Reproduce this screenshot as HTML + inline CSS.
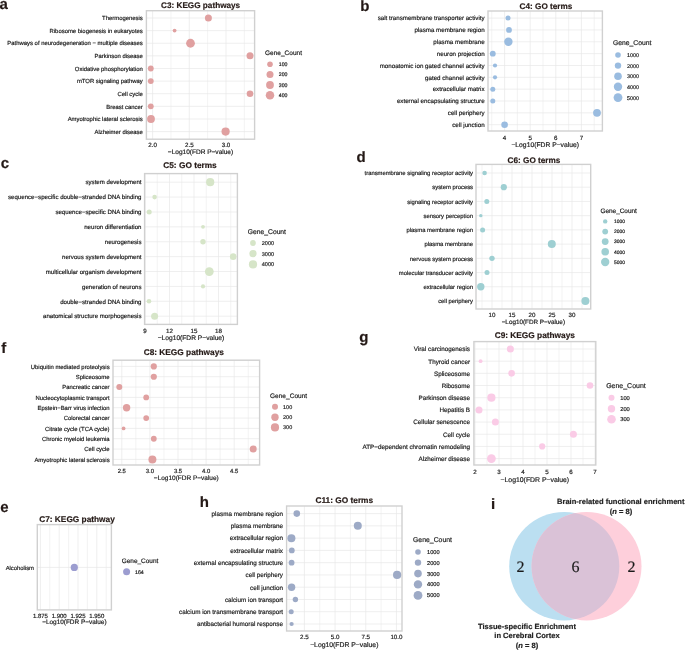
<!DOCTYPE html>
<html><head><meta charset="utf-8"><style>
html,body{margin:0;padding:0;background:#fff;overflow:hidden}
svg{display:block;will-change:transform}
text{font-family:"Liberation Sans",sans-serif;text-rendering:geometricPrecision;stroke:currentColor;stroke-width:0.18px;paint-order:stroke}
</style></head><body>
<svg width="685" height="650" viewBox="0 0 685 650">
<rect width="685" height="650" fill="#fff"/>
<text x="-0.50" y="8.70" font-size="15" text-anchor="start" font-weight="bold" fill="#231815" color="#231815" stroke-width="0">a</text>
<text x="200.60" y="7.90" font-size="8.2" text-anchor="middle" font-weight="bold" fill="#231815" color="#231815" stroke-width="0.08">C3: KEGG pathways</text>
<line x1="170.95" y1="10.70" x2="170.95" y2="139.20" stroke="#ececec" stroke-width="0.65"/>
<line x1="207.65" y1="10.70" x2="207.65" y2="139.20" stroke="#ececec" stroke-width="0.65"/>
<line x1="244.35" y1="10.70" x2="244.35" y2="139.20" stroke="#ececec" stroke-width="0.65"/>
<line x1="146.40" y1="18.00" x2="254.60" y2="18.00" stroke="#e8e8e8" stroke-width="0.7"/>
<line x1="146.40" y1="30.62" x2="254.60" y2="30.62" stroke="#e8e8e8" stroke-width="0.7"/>
<line x1="146.40" y1="43.24" x2="254.60" y2="43.24" stroke="#e8e8e8" stroke-width="0.7"/>
<line x1="146.40" y1="55.87" x2="254.60" y2="55.87" stroke="#e8e8e8" stroke-width="0.7"/>
<line x1="146.40" y1="68.49" x2="254.60" y2="68.49" stroke="#e8e8e8" stroke-width="0.7"/>
<line x1="146.40" y1="81.11" x2="254.60" y2="81.11" stroke="#e8e8e8" stroke-width="0.7"/>
<line x1="146.40" y1="93.73" x2="254.60" y2="93.73" stroke="#e8e8e8" stroke-width="0.7"/>
<line x1="146.40" y1="106.36" x2="254.60" y2="106.36" stroke="#e8e8e8" stroke-width="0.7"/>
<line x1="146.40" y1="118.98" x2="254.60" y2="118.98" stroke="#e8e8e8" stroke-width="0.7"/>
<line x1="146.40" y1="131.60" x2="254.60" y2="131.60" stroke="#e8e8e8" stroke-width="0.7"/>
<line x1="152.60" y1="10.70" x2="152.60" y2="139.20" stroke="#e8e8e8" stroke-width="0.7"/>
<line x1="189.30" y1="10.70" x2="189.30" y2="139.20" stroke="#e8e8e8" stroke-width="0.7"/>
<line x1="226.00" y1="10.70" x2="226.00" y2="139.20" stroke="#e8e8e8" stroke-width="0.7"/>
<rect x="146.40" y="10.70" width="108.20" height="128.50" fill="none" stroke="#d0d0d0" stroke-width="1.4"/>
<circle cx="208.40" cy="18.00" r="3.50" fill="#e0a0a0"/>
<circle cx="174.60" cy="30.62" r="1.90" fill="#e0a0a0"/>
<circle cx="190.50" cy="43.24" r="4.40" fill="#e0a0a0"/>
<circle cx="250.00" cy="55.87" r="3.50" fill="#e0a0a0"/>
<circle cx="150.80" cy="68.49" r="2.90" fill="#e0a0a0"/>
<circle cx="150.80" cy="81.11" r="2.90" fill="#e0a0a0"/>
<circle cx="250.00" cy="93.73" r="3.30" fill="#e0a0a0"/>
<circle cx="150.80" cy="106.36" r="2.90" fill="#e0a0a0"/>
<circle cx="151.00" cy="118.98" r="3.90" fill="#e0a0a0"/>
<circle cx="225.60" cy="131.60" r="4.10" fill="#e0a0a0"/>
<text x="142.80" y="20.19" font-size="5.92" text-anchor="end" fill="#1a1a1a" color="#1a1a1a">Thermogenesis</text>
<text x="142.80" y="32.81" font-size="5.92" text-anchor="end" fill="#1a1a1a" color="#1a1a1a">Ribosome biogenesis in eukaryotes</text>
<text x="142.80" y="45.43" font-size="5.92" text-anchor="end" fill="#1a1a1a" color="#1a1a1a">Pathways of neurodegeneration − multiple diseases</text>
<text x="142.80" y="58.06" font-size="5.92" text-anchor="end" fill="#1a1a1a" color="#1a1a1a">Parkinson disease</text>
<text x="142.80" y="70.68" font-size="5.92" text-anchor="end" fill="#1a1a1a" color="#1a1a1a">Oxidative phosphorylation</text>
<text x="142.80" y="83.30" font-size="5.92" text-anchor="end" fill="#1a1a1a" color="#1a1a1a">mTOR signaling pathway</text>
<text x="142.80" y="95.92" font-size="5.92" text-anchor="end" fill="#1a1a1a" color="#1a1a1a">Cell cycle</text>
<text x="142.80" y="108.55" font-size="5.92" text-anchor="end" fill="#1a1a1a" color="#1a1a1a">Breast cancer</text>
<text x="142.80" y="121.17" font-size="5.92" text-anchor="end" fill="#1a1a1a" color="#1a1a1a">Amyotrophic lateral sclerosis</text>
<text x="142.80" y="133.79" font-size="5.92" text-anchor="end" fill="#1a1a1a" color="#1a1a1a">Alzheimer disease</text>
<text x="152.60" y="146.83" font-size="6.2" text-anchor="middle" fill="#1a1a1a" color="#1a1a1a">2.0</text>
<text x="189.30" y="146.83" font-size="6.2" text-anchor="middle" fill="#1a1a1a" color="#1a1a1a">2.5</text>
<text x="226.00" y="146.83" font-size="6.2" text-anchor="middle" fill="#1a1a1a" color="#1a1a1a">3.0</text>
<text x="200.50" y="154.36" font-size="6.54" text-anchor="middle" fill="#1a1a1a" color="#1a1a1a">−Log10(FDR P−value)</text>
<text x="265.00" y="55.35" font-size="6.53" text-anchor="start" fill="#1a1a1a" color="#1a1a1a">Gene_Count</text>
<circle cx="270.00" cy="64.30" r="2.80" fill="#e0a0a0"/>
<text x="278.80" y="66.17" font-size="5.2" text-anchor="start" fill="#1a1a1a" color="#1a1a1a">100</text>
<circle cx="270.00" cy="74.60" r="3.50" fill="#e0a0a0"/>
<text x="278.80" y="76.47" font-size="5.2" text-anchor="start" fill="#1a1a1a" color="#1a1a1a">200</text>
<circle cx="270.00" cy="85.00" r="3.90" fill="#e0a0a0"/>
<text x="278.80" y="86.87" font-size="5.2" text-anchor="start" fill="#1a1a1a" color="#1a1a1a">300</text>
<circle cx="270.00" cy="95.20" r="4.25" fill="#e0a0a0"/>
<text x="278.80" y="97.07" font-size="5.2" text-anchor="start" fill="#1a1a1a" color="#1a1a1a">400</text>
<text x="360.30" y="10.50" font-size="15" text-anchor="start" font-weight="bold" fill="#231815" color="#231815" stroke-width="0">b</text>
<text x="546.00" y="8.90" font-size="8.2" text-anchor="middle" font-weight="bold" fill="#231815" color="#231815" stroke-width="0.08">C4: GO terms</text>
<line x1="491.80" y1="11.00" x2="491.80" y2="131.00" stroke="#ececec" stroke-width="0.65"/>
<line x1="517.40" y1="11.00" x2="517.40" y2="131.00" stroke="#ececec" stroke-width="0.65"/>
<line x1="543.00" y1="11.00" x2="543.00" y2="131.00" stroke="#ececec" stroke-width="0.65"/>
<line x1="568.60" y1="11.00" x2="568.60" y2="131.00" stroke="#ececec" stroke-width="0.65"/>
<line x1="594.20" y1="11.00" x2="594.20" y2="131.00" stroke="#ececec" stroke-width="0.65"/>
<line x1="488.00" y1="18.10" x2="602.40" y2="18.10" stroke="#e8e8e8" stroke-width="0.7"/>
<line x1="488.00" y1="29.94" x2="602.40" y2="29.94" stroke="#e8e8e8" stroke-width="0.7"/>
<line x1="488.00" y1="41.79" x2="602.40" y2="41.79" stroke="#e8e8e8" stroke-width="0.7"/>
<line x1="488.00" y1="53.63" x2="602.40" y2="53.63" stroke="#e8e8e8" stroke-width="0.7"/>
<line x1="488.00" y1="65.48" x2="602.40" y2="65.48" stroke="#e8e8e8" stroke-width="0.7"/>
<line x1="488.00" y1="77.32" x2="602.40" y2="77.32" stroke="#e8e8e8" stroke-width="0.7"/>
<line x1="488.00" y1="89.17" x2="602.40" y2="89.17" stroke="#e8e8e8" stroke-width="0.7"/>
<line x1="488.00" y1="101.01" x2="602.40" y2="101.01" stroke="#e8e8e8" stroke-width="0.7"/>
<line x1="488.00" y1="112.86" x2="602.40" y2="112.86" stroke="#e8e8e8" stroke-width="0.7"/>
<line x1="488.00" y1="124.70" x2="602.40" y2="124.70" stroke="#e8e8e8" stroke-width="0.7"/>
<line x1="504.60" y1="11.00" x2="504.60" y2="131.00" stroke="#e8e8e8" stroke-width="0.7"/>
<line x1="530.20" y1="11.00" x2="530.20" y2="131.00" stroke="#e8e8e8" stroke-width="0.7"/>
<line x1="555.80" y1="11.00" x2="555.80" y2="131.00" stroke="#e8e8e8" stroke-width="0.7"/>
<line x1="581.40" y1="11.00" x2="581.40" y2="131.00" stroke="#e8e8e8" stroke-width="0.7"/>
<rect x="488.00" y="11.00" width="114.40" height="120.00" fill="none" stroke="#d0d0d0" stroke-width="1.4"/>
<circle cx="508.00" cy="18.10" r="2.50" fill="#9abce0"/>
<circle cx="509.00" cy="29.94" r="2.90" fill="#9abce0"/>
<circle cx="508.40" cy="41.79" r="4.20" fill="#9abce0"/>
<circle cx="492.80" cy="53.63" r="2.90" fill="#9abce0"/>
<circle cx="495.00" cy="65.48" r="2.10" fill="#9abce0"/>
<circle cx="495.00" cy="77.32" r="2.10" fill="#9abce0"/>
<circle cx="492.80" cy="89.17" r="2.50" fill="#9abce0"/>
<circle cx="492.80" cy="101.01" r="2.50" fill="#9abce0"/>
<circle cx="597.00" cy="112.86" r="3.90" fill="#9abce0"/>
<circle cx="504.60" cy="124.70" r="3.30" fill="#9abce0"/>
<text x="484.60" y="20.39" font-size="6.2" text-anchor="end" fill="#1a1a1a" color="#1a1a1a">salt transmembrane transporter activity</text>
<text x="484.60" y="32.24" font-size="6.2" text-anchor="end" fill="#1a1a1a" color="#1a1a1a">plasma membrane region</text>
<text x="484.60" y="44.08" font-size="6.2" text-anchor="end" fill="#1a1a1a" color="#1a1a1a">plasma membrane</text>
<text x="484.60" y="55.93" font-size="6.2" text-anchor="end" fill="#1a1a1a" color="#1a1a1a">neuron projection</text>
<text x="484.60" y="67.77" font-size="6.2" text-anchor="end" fill="#1a1a1a" color="#1a1a1a">monoatomic ion gated channel activity</text>
<text x="484.60" y="79.62" font-size="6.2" text-anchor="end" fill="#1a1a1a" color="#1a1a1a">gated channel activity</text>
<text x="484.60" y="91.46" font-size="6.2" text-anchor="end" fill="#1a1a1a" color="#1a1a1a">extracellular matrix</text>
<text x="484.60" y="103.31" font-size="6.2" text-anchor="end" fill="#1a1a1a" color="#1a1a1a">external encapsulating structure</text>
<text x="484.60" y="115.15" font-size="6.2" text-anchor="end" fill="#1a1a1a" color="#1a1a1a">cell periphery</text>
<text x="484.60" y="126.99" font-size="6.2" text-anchor="end" fill="#1a1a1a" color="#1a1a1a">cell junction</text>
<text x="504.60" y="139.53" font-size="6.2" text-anchor="middle" fill="#1a1a1a" color="#1a1a1a">4</text>
<text x="530.20" y="139.53" font-size="6.2" text-anchor="middle" fill="#1a1a1a" color="#1a1a1a">5</text>
<text x="555.80" y="139.53" font-size="6.2" text-anchor="middle" fill="#1a1a1a" color="#1a1a1a">6</text>
<text x="581.40" y="139.53" font-size="6.2" text-anchor="middle" fill="#1a1a1a" color="#1a1a1a">7</text>
<text x="545.20" y="146.83" font-size="6.76" text-anchor="middle" fill="#1a1a1a" color="#1a1a1a">−Log10(FDR P−value)</text>
<text x="613.00" y="45.44" font-size="6.77" text-anchor="start" fill="#1a1a1a" color="#1a1a1a">Gene_Count</text>
<circle cx="618.00" cy="55.00" r="2.80" fill="#9abce0"/>
<text x="627.00" y="56.94" font-size="5.4" text-anchor="start" fill="#1a1a1a" color="#1a1a1a">1000</text>
<circle cx="618.00" cy="65.60" r="3.20" fill="#9abce0"/>
<text x="627.00" y="67.54" font-size="5.4" text-anchor="start" fill="#1a1a1a" color="#1a1a1a">2000</text>
<circle cx="618.00" cy="76.20" r="3.80" fill="#9abce0"/>
<text x="627.00" y="78.14" font-size="5.4" text-anchor="start" fill="#1a1a1a" color="#1a1a1a">3000</text>
<circle cx="618.00" cy="86.80" r="4.20" fill="#9abce0"/>
<text x="627.00" y="88.74" font-size="5.4" text-anchor="start" fill="#1a1a1a" color="#1a1a1a">4000</text>
<circle cx="618.00" cy="97.60" r="4.40" fill="#9abce0"/>
<text x="627.00" y="99.54" font-size="5.4" text-anchor="start" fill="#1a1a1a" color="#1a1a1a">5000</text>
<text x="0.80" y="168.20" font-size="15" text-anchor="start" font-weight="bold" fill="#231815" color="#231815" stroke-width="0">c</text>
<text x="190.00" y="168.00" font-size="8.3" text-anchor="middle" font-weight="bold" fill="#231815" color="#231815" stroke-width="0.08">C5: GO terms</text>
<line x1="157.25" y1="173.60" x2="157.25" y2="324.40" stroke="#ececec" stroke-width="0.65"/>
<line x1="181.76" y1="173.60" x2="181.76" y2="324.40" stroke="#ececec" stroke-width="0.65"/>
<line x1="206.28" y1="173.60" x2="206.28" y2="324.40" stroke="#ececec" stroke-width="0.65"/>
<line x1="230.78" y1="173.60" x2="230.78" y2="324.40" stroke="#ececec" stroke-width="0.65"/>
<line x1="144.60" y1="182.20" x2="237.40" y2="182.20" stroke="#e8e8e8" stroke-width="0.7"/>
<line x1="144.60" y1="197.09" x2="237.40" y2="197.09" stroke="#e8e8e8" stroke-width="0.7"/>
<line x1="144.60" y1="211.98" x2="237.40" y2="211.98" stroke="#e8e8e8" stroke-width="0.7"/>
<line x1="144.60" y1="226.87" x2="237.40" y2="226.87" stroke="#e8e8e8" stroke-width="0.7"/>
<line x1="144.60" y1="241.76" x2="237.40" y2="241.76" stroke="#e8e8e8" stroke-width="0.7"/>
<line x1="144.60" y1="256.64" x2="237.40" y2="256.64" stroke="#e8e8e8" stroke-width="0.7"/>
<line x1="144.60" y1="271.53" x2="237.40" y2="271.53" stroke="#e8e8e8" stroke-width="0.7"/>
<line x1="144.60" y1="286.42" x2="237.40" y2="286.42" stroke="#e8e8e8" stroke-width="0.7"/>
<line x1="144.60" y1="301.31" x2="237.40" y2="301.31" stroke="#e8e8e8" stroke-width="0.7"/>
<line x1="144.60" y1="316.20" x2="237.40" y2="316.20" stroke="#e8e8e8" stroke-width="0.7"/>
<line x1="145.00" y1="173.60" x2="145.00" y2="324.40" stroke="#e8e8e8" stroke-width="0.7"/>
<line x1="169.51" y1="173.60" x2="169.51" y2="324.40" stroke="#e8e8e8" stroke-width="0.7"/>
<line x1="194.02" y1="173.60" x2="194.02" y2="324.40" stroke="#e8e8e8" stroke-width="0.7"/>
<line x1="218.53" y1="173.60" x2="218.53" y2="324.40" stroke="#e8e8e8" stroke-width="0.7"/>
<rect x="144.60" y="173.60" width="92.80" height="150.80" fill="none" stroke="#d0d0d0" stroke-width="1.4"/>
<circle cx="210.20" cy="182.20" r="4.10" fill="#d6e5c8"/>
<circle cx="154.60" cy="197.09" r="2.30" fill="#d6e5c8"/>
<circle cx="149.20" cy="211.98" r="2.50" fill="#d6e5c8"/>
<circle cx="203.00" cy="226.87" r="1.90" fill="#d6e5c8"/>
<circle cx="203.00" cy="241.76" r="2.70" fill="#d6e5c8"/>
<circle cx="233.20" cy="256.64" r="3.30" fill="#d6e5c8"/>
<circle cx="209.30" cy="271.53" r="4.40" fill="#d6e5c8"/>
<circle cx="203.00" cy="286.42" r="2.10" fill="#d6e5c8"/>
<circle cx="149.00" cy="301.31" r="2.30" fill="#d6e5c8"/>
<circle cx="154.60" cy="316.20" r="3.50" fill="#d6e5c8"/>
<text x="141.50" y="184.46" font-size="6.12" text-anchor="end" fill="#1a1a1a" color="#1a1a1a">system development</text>
<text x="141.50" y="199.35" font-size="6.12" text-anchor="end" fill="#1a1a1a" color="#1a1a1a">sequence−specific double−stranded DNA binding</text>
<text x="141.50" y="214.24" font-size="6.12" text-anchor="end" fill="#1a1a1a" color="#1a1a1a">sequence−specific DNA binding</text>
<text x="141.50" y="229.13" font-size="6.12" text-anchor="end" fill="#1a1a1a" color="#1a1a1a">neuron differentiation</text>
<text x="141.50" y="244.02" font-size="6.12" text-anchor="end" fill="#1a1a1a" color="#1a1a1a">neurogenesis</text>
<text x="141.50" y="258.91" font-size="6.12" text-anchor="end" fill="#1a1a1a" color="#1a1a1a">nervous system development</text>
<text x="141.50" y="273.80" font-size="6.12" text-anchor="end" fill="#1a1a1a" color="#1a1a1a">multicellular organism development</text>
<text x="141.50" y="288.69" font-size="6.12" text-anchor="end" fill="#1a1a1a" color="#1a1a1a">generation of neurons</text>
<text x="141.50" y="303.58" font-size="6.12" text-anchor="end" fill="#1a1a1a" color="#1a1a1a">double−stranded DNA binding</text>
<text x="141.50" y="318.46" font-size="6.12" text-anchor="end" fill="#1a1a1a" color="#1a1a1a">anatomical structure morphogenesis</text>
<text x="145.00" y="332.63" font-size="6.2" text-anchor="middle" fill="#1a1a1a" color="#1a1a1a">9</text>
<text x="169.51" y="332.63" font-size="6.2" text-anchor="middle" fill="#1a1a1a" color="#1a1a1a">12</text>
<text x="194.02" y="332.63" font-size="6.2" text-anchor="middle" fill="#1a1a1a" color="#1a1a1a">15</text>
<text x="218.53" y="332.63" font-size="6.2" text-anchor="middle" fill="#1a1a1a" color="#1a1a1a">18</text>
<text x="191.00" y="340.20" font-size="6.66" text-anchor="middle" fill="#1a1a1a" color="#1a1a1a">−Log10(FDR P−value)</text>
<text x="247.80" y="234.43" font-size="6.74" text-anchor="start" fill="#1a1a1a" color="#1a1a1a">Gene_Count</text>
<circle cx="253.00" cy="243.00" r="2.90" fill="#d6e5c8"/>
<text x="261.80" y="244.97" font-size="5.47" text-anchor="start" fill="#1a1a1a" color="#1a1a1a">2000</text>
<circle cx="253.00" cy="253.60" r="3.60" fill="#d6e5c8"/>
<text x="261.80" y="255.57" font-size="5.47" text-anchor="start" fill="#1a1a1a" color="#1a1a1a">3000</text>
<circle cx="253.00" cy="264.40" r="4.10" fill="#d6e5c8"/>
<text x="261.80" y="266.37" font-size="5.47" text-anchor="start" fill="#1a1a1a" color="#1a1a1a">4000</text>
<text x="356.60" y="161.90" font-size="15" text-anchor="start" font-weight="bold" fill="#231815" color="#231815" stroke-width="0">d</text>
<text x="534.00" y="163.00" font-size="8.2" text-anchor="middle" font-weight="bold" fill="#231815" color="#231815" stroke-width="0.08">C6: GO terms</text>
<line x1="482.00" y1="164.40" x2="482.00" y2="309.00" stroke="#ececec" stroke-width="0.65"/>
<line x1="502.00" y1="164.40" x2="502.00" y2="309.00" stroke="#ececec" stroke-width="0.65"/>
<line x1="522.00" y1="164.40" x2="522.00" y2="309.00" stroke="#ececec" stroke-width="0.65"/>
<line x1="542.00" y1="164.40" x2="542.00" y2="309.00" stroke="#ececec" stroke-width="0.65"/>
<line x1="562.00" y1="164.40" x2="562.00" y2="309.00" stroke="#ececec" stroke-width="0.65"/>
<line x1="582.00" y1="164.40" x2="582.00" y2="309.00" stroke="#ececec" stroke-width="0.65"/>
<line x1="476.00" y1="173.00" x2="590.70" y2="173.00" stroke="#e8e8e8" stroke-width="0.7"/>
<line x1="476.00" y1="187.22" x2="590.70" y2="187.22" stroke="#e8e8e8" stroke-width="0.7"/>
<line x1="476.00" y1="201.44" x2="590.70" y2="201.44" stroke="#e8e8e8" stroke-width="0.7"/>
<line x1="476.00" y1="215.67" x2="590.70" y2="215.67" stroke="#e8e8e8" stroke-width="0.7"/>
<line x1="476.00" y1="229.89" x2="590.70" y2="229.89" stroke="#e8e8e8" stroke-width="0.7"/>
<line x1="476.00" y1="244.11" x2="590.70" y2="244.11" stroke="#e8e8e8" stroke-width="0.7"/>
<line x1="476.00" y1="258.33" x2="590.70" y2="258.33" stroke="#e8e8e8" stroke-width="0.7"/>
<line x1="476.00" y1="272.56" x2="590.70" y2="272.56" stroke="#e8e8e8" stroke-width="0.7"/>
<line x1="476.00" y1="286.78" x2="590.70" y2="286.78" stroke="#e8e8e8" stroke-width="0.7"/>
<line x1="476.00" y1="301.00" x2="590.70" y2="301.00" stroke="#e8e8e8" stroke-width="0.7"/>
<line x1="492.00" y1="164.40" x2="492.00" y2="309.00" stroke="#e8e8e8" stroke-width="0.7"/>
<line x1="512.00" y1="164.40" x2="512.00" y2="309.00" stroke="#e8e8e8" stroke-width="0.7"/>
<line x1="532.00" y1="164.40" x2="532.00" y2="309.00" stroke="#e8e8e8" stroke-width="0.7"/>
<line x1="552.00" y1="164.40" x2="552.00" y2="309.00" stroke="#e8e8e8" stroke-width="0.7"/>
<line x1="572.00" y1="164.40" x2="572.00" y2="309.00" stroke="#e8e8e8" stroke-width="0.7"/>
<rect x="476.00" y="164.40" width="114.70" height="144.60" fill="none" stroke="#d0d0d0" stroke-width="1.4"/>
<circle cx="484.60" cy="173.00" r="2.30" fill="#9ecfd2"/>
<circle cx="503.80" cy="187.22" r="3.10" fill="#9ecfd2"/>
<circle cx="486.80" cy="201.44" r="2.50" fill="#9ecfd2"/>
<circle cx="480.80" cy="215.67" r="1.70" fill="#9ecfd2"/>
<circle cx="482.60" cy="229.89" r="2.50" fill="#9ecfd2"/>
<circle cx="551.80" cy="244.11" r="4.00" fill="#9ecfd2"/>
<circle cx="492.00" cy="258.33" r="2.70" fill="#9ecfd2"/>
<circle cx="487.00" cy="272.56" r="2.50" fill="#9ecfd2"/>
<circle cx="480.80" cy="286.78" r="3.70" fill="#9ecfd2"/>
<circle cx="585.40" cy="301.00" r="4.00" fill="#9ecfd2"/>
<text x="473.00" y="175.17" font-size="5.87" text-anchor="end" fill="#1a1a1a" color="#1a1a1a">transmembrane signaling receptor activity</text>
<text x="473.00" y="189.39" font-size="5.87" text-anchor="end" fill="#1a1a1a" color="#1a1a1a">system process</text>
<text x="473.00" y="203.62" font-size="5.87" text-anchor="end" fill="#1a1a1a" color="#1a1a1a">signaling receptor activity</text>
<text x="473.00" y="217.84" font-size="5.87" text-anchor="end" fill="#1a1a1a" color="#1a1a1a">sensory perception</text>
<text x="473.00" y="232.06" font-size="5.87" text-anchor="end" fill="#1a1a1a" color="#1a1a1a">plasma membrane region</text>
<text x="473.00" y="246.28" font-size="5.87" text-anchor="end" fill="#1a1a1a" color="#1a1a1a">plasma membrane</text>
<text x="473.00" y="260.51" font-size="5.87" text-anchor="end" fill="#1a1a1a" color="#1a1a1a">nervous system process</text>
<text x="473.00" y="274.73" font-size="5.87" text-anchor="end" fill="#1a1a1a" color="#1a1a1a">molecular transducer activity</text>
<text x="473.00" y="288.95" font-size="5.87" text-anchor="end" fill="#1a1a1a" color="#1a1a1a">extracellular region</text>
<text x="473.00" y="303.17" font-size="5.87" text-anchor="end" fill="#1a1a1a" color="#1a1a1a">cell periphery</text>
<text x="492.00" y="317.23" font-size="6.2" text-anchor="middle" fill="#1a1a1a" color="#1a1a1a">10</text>
<text x="512.00" y="317.23" font-size="6.2" text-anchor="middle" fill="#1a1a1a" color="#1a1a1a">15</text>
<text x="532.00" y="317.23" font-size="6.2" text-anchor="middle" fill="#1a1a1a" color="#1a1a1a">20</text>
<text x="552.00" y="317.23" font-size="6.2" text-anchor="middle" fill="#1a1a1a" color="#1a1a1a">25</text>
<text x="572.00" y="317.23" font-size="6.2" text-anchor="middle" fill="#1a1a1a" color="#1a1a1a">30</text>
<text x="533.35" y="324.09" font-size="6.34" text-anchor="middle" fill="#1a1a1a" color="#1a1a1a">−Log10(FDR P−value)</text>
<text x="600.40" y="212.72" font-size="6.45" text-anchor="start" fill="#1a1a1a" color="#1a1a1a">Gene_Count</text>
<circle cx="605.20" cy="221.40" r="2.20" fill="#9ecfd2"/>
<text x="614.00" y="223.18" font-size="4.95" text-anchor="start" fill="#1a1a1a" color="#1a1a1a">1000</text>
<circle cx="605.20" cy="231.60" r="2.90" fill="#9ecfd2"/>
<text x="614.00" y="233.38" font-size="4.95" text-anchor="start" fill="#1a1a1a" color="#1a1a1a">2000</text>
<circle cx="605.20" cy="241.60" r="3.40" fill="#9ecfd2"/>
<text x="614.00" y="243.38" font-size="4.95" text-anchor="start" fill="#1a1a1a" color="#1a1a1a">3000</text>
<circle cx="605.20" cy="251.80" r="3.80" fill="#9ecfd2"/>
<text x="614.00" y="253.58" font-size="4.95" text-anchor="start" fill="#1a1a1a" color="#1a1a1a">4000</text>
<circle cx="605.20" cy="262.00" r="4.20" fill="#9ecfd2"/>
<text x="614.00" y="263.78" font-size="4.95" text-anchor="start" fill="#1a1a1a" color="#1a1a1a">5000</text>
<text x="1.30" y="352.60" font-size="15" text-anchor="start" font-weight="bold" fill="#231815" color="#231815" stroke-width="0">f</text>
<text x="183.80" y="355.30" font-size="8.3" text-anchor="middle" font-weight="bold" fill="#231815" color="#231815" stroke-width="0.08">C8: KEGG pathways</text>
<line x1="135.85" y1="360.20" x2="135.85" y2="465.00" stroke="#ececec" stroke-width="0.65"/>
<line x1="163.95" y1="360.20" x2="163.95" y2="465.00" stroke="#ececec" stroke-width="0.65"/>
<line x1="192.05" y1="360.20" x2="192.05" y2="465.00" stroke="#ececec" stroke-width="0.65"/>
<line x1="220.15" y1="360.20" x2="220.15" y2="465.00" stroke="#ececec" stroke-width="0.65"/>
<line x1="248.25" y1="360.20" x2="248.25" y2="465.00" stroke="#ececec" stroke-width="0.65"/>
<line x1="113.00" y1="366.40" x2="259.60" y2="366.40" stroke="#e8e8e8" stroke-width="0.7"/>
<line x1="113.00" y1="376.73" x2="259.60" y2="376.73" stroke="#e8e8e8" stroke-width="0.7"/>
<line x1="113.00" y1="387.07" x2="259.60" y2="387.07" stroke="#e8e8e8" stroke-width="0.7"/>
<line x1="113.00" y1="397.40" x2="259.60" y2="397.40" stroke="#e8e8e8" stroke-width="0.7"/>
<line x1="113.00" y1="407.73" x2="259.60" y2="407.73" stroke="#e8e8e8" stroke-width="0.7"/>
<line x1="113.00" y1="418.07" x2="259.60" y2="418.07" stroke="#e8e8e8" stroke-width="0.7"/>
<line x1="113.00" y1="428.40" x2="259.60" y2="428.40" stroke="#e8e8e8" stroke-width="0.7"/>
<line x1="113.00" y1="438.73" x2="259.60" y2="438.73" stroke="#e8e8e8" stroke-width="0.7"/>
<line x1="113.00" y1="449.07" x2="259.60" y2="449.07" stroke="#e8e8e8" stroke-width="0.7"/>
<line x1="113.00" y1="459.40" x2="259.60" y2="459.40" stroke="#e8e8e8" stroke-width="0.7"/>
<line x1="121.80" y1="360.20" x2="121.80" y2="465.00" stroke="#e8e8e8" stroke-width="0.7"/>
<line x1="149.90" y1="360.20" x2="149.90" y2="465.00" stroke="#e8e8e8" stroke-width="0.7"/>
<line x1="178.00" y1="360.20" x2="178.00" y2="465.00" stroke="#e8e8e8" stroke-width="0.7"/>
<line x1="206.10" y1="360.20" x2="206.10" y2="465.00" stroke="#e8e8e8" stroke-width="0.7"/>
<line x1="234.20" y1="360.20" x2="234.20" y2="465.00" stroke="#e8e8e8" stroke-width="0.7"/>
<rect x="113.00" y="360.20" width="146.60" height="104.80" fill="none" stroke="#d0d0d0" stroke-width="1.4"/>
<circle cx="153.80" cy="366.40" r="3.10" fill="#e0a0a0"/>
<circle cx="153.80" cy="376.73" r="3.10" fill="#e0a0a0"/>
<circle cx="119.30" cy="387.07" r="3.00" fill="#e0a0a0"/>
<circle cx="146.20" cy="397.40" r="2.90" fill="#e0a0a0"/>
<circle cx="126.60" cy="407.73" r="3.70" fill="#e0a0a0"/>
<circle cx="146.20" cy="418.07" r="2.90" fill="#e0a0a0"/>
<circle cx="123.60" cy="428.40" r="1.90" fill="#e0a0a0"/>
<circle cx="153.80" cy="438.73" r="2.90" fill="#e0a0a0"/>
<circle cx="253.20" cy="449.07" r="3.50" fill="#e0a0a0"/>
<circle cx="152.40" cy="459.40" r="4.00" fill="#e0a0a0"/>
<text x="109.60" y="368.59" font-size="5.92" text-anchor="end" fill="#1a1a1a" color="#1a1a1a">Ubiquitin mediated proteolysis</text>
<text x="109.60" y="378.92" font-size="5.92" text-anchor="end" fill="#1a1a1a" color="#1a1a1a">Spliceosome</text>
<text x="109.60" y="389.26" font-size="5.92" text-anchor="end" fill="#1a1a1a" color="#1a1a1a">Pancreatic cancer</text>
<text x="109.60" y="399.59" font-size="5.92" text-anchor="end" fill="#1a1a1a" color="#1a1a1a">Nucleocytoplasmic transport</text>
<text x="109.60" y="409.92" font-size="5.92" text-anchor="end" fill="#1a1a1a" color="#1a1a1a">Epstein−Barr virus infection</text>
<text x="109.60" y="420.26" font-size="5.92" text-anchor="end" fill="#1a1a1a" color="#1a1a1a">Colorectal cancer</text>
<text x="109.60" y="430.59" font-size="5.92" text-anchor="end" fill="#1a1a1a" color="#1a1a1a">Citrate cycle (TCA cycle)</text>
<text x="109.60" y="440.92" font-size="5.92" text-anchor="end" fill="#1a1a1a" color="#1a1a1a">Chronic myeloid leukemia</text>
<text x="109.60" y="451.26" font-size="5.92" text-anchor="end" fill="#1a1a1a" color="#1a1a1a">Cell cycle</text>
<text x="109.60" y="461.59" font-size="5.92" text-anchor="end" fill="#1a1a1a" color="#1a1a1a">Amyotrophic lateral sclerosis</text>
<text x="121.80" y="472.72" font-size="5.9" text-anchor="middle" fill="#1a1a1a" color="#1a1a1a">2.5</text>
<text x="149.90" y="472.72" font-size="5.9" text-anchor="middle" fill="#1a1a1a" color="#1a1a1a">3.0</text>
<text x="178.00" y="472.72" font-size="5.9" text-anchor="middle" fill="#1a1a1a" color="#1a1a1a">3.5</text>
<text x="206.10" y="472.72" font-size="5.9" text-anchor="middle" fill="#1a1a1a" color="#1a1a1a">4.0</text>
<text x="234.20" y="472.72" font-size="5.9" text-anchor="middle" fill="#1a1a1a" color="#1a1a1a">4.5</text>
<text x="186.30" y="480.14" font-size="6.49" text-anchor="middle" fill="#1a1a1a" color="#1a1a1a">−Log10(FDR P−value)</text>
<text x="270.00" y="398.16" font-size="6.56" text-anchor="start" fill="#1a1a1a" color="#1a1a1a">Gene_Count</text>
<circle cx="275.00" cy="406.80" r="3.00" fill="#e0a0a0"/>
<text x="283.10" y="408.76" font-size="5.45" text-anchor="start" fill="#1a1a1a" color="#1a1a1a">100</text>
<circle cx="275.00" cy="417.20" r="3.70" fill="#e0a0a0"/>
<text x="283.10" y="419.16" font-size="5.45" text-anchor="start" fill="#1a1a1a" color="#1a1a1a">200</text>
<circle cx="275.00" cy="427.40" r="4.10" fill="#e0a0a0"/>
<text x="283.10" y="429.36" font-size="5.45" text-anchor="start" fill="#1a1a1a" color="#1a1a1a">300</text>
<text x="359.30" y="342.00" font-size="15" text-anchor="start" font-weight="bold" fill="#231815" color="#231815" stroke-width="0">g</text>
<text x="534.80" y="338.40" font-size="8.3" text-anchor="middle" font-weight="bold" fill="#231815" color="#231815" stroke-width="0.08">C9: KEGG pathways</text>
<line x1="487.00" y1="341.60" x2="487.00" y2="465.00" stroke="#ececec" stroke-width="0.65"/>
<line x1="511.00" y1="341.60" x2="511.00" y2="465.00" stroke="#ececec" stroke-width="0.65"/>
<line x1="535.00" y1="341.60" x2="535.00" y2="465.00" stroke="#ececec" stroke-width="0.65"/>
<line x1="559.00" y1="341.60" x2="559.00" y2="465.00" stroke="#ececec" stroke-width="0.65"/>
<line x1="583.00" y1="341.60" x2="583.00" y2="465.00" stroke="#ececec" stroke-width="0.65"/>
<line x1="473.90" y1="349.00" x2="595.80" y2="349.00" stroke="#e8e8e8" stroke-width="0.7"/>
<line x1="473.90" y1="361.18" x2="595.80" y2="361.18" stroke="#e8e8e8" stroke-width="0.7"/>
<line x1="473.90" y1="373.36" x2="595.80" y2="373.36" stroke="#e8e8e8" stroke-width="0.7"/>
<line x1="473.90" y1="385.53" x2="595.80" y2="385.53" stroke="#e8e8e8" stroke-width="0.7"/>
<line x1="473.90" y1="397.71" x2="595.80" y2="397.71" stroke="#e8e8e8" stroke-width="0.7"/>
<line x1="473.90" y1="409.89" x2="595.80" y2="409.89" stroke="#e8e8e8" stroke-width="0.7"/>
<line x1="473.90" y1="422.07" x2="595.80" y2="422.07" stroke="#e8e8e8" stroke-width="0.7"/>
<line x1="473.90" y1="434.24" x2="595.80" y2="434.24" stroke="#e8e8e8" stroke-width="0.7"/>
<line x1="473.90" y1="446.42" x2="595.80" y2="446.42" stroke="#e8e8e8" stroke-width="0.7"/>
<line x1="473.90" y1="458.60" x2="595.80" y2="458.60" stroke="#e8e8e8" stroke-width="0.7"/>
<line x1="475.00" y1="341.60" x2="475.00" y2="465.00" stroke="#e8e8e8" stroke-width="0.7"/>
<line x1="499.00" y1="341.60" x2="499.00" y2="465.00" stroke="#e8e8e8" stroke-width="0.7"/>
<line x1="523.00" y1="341.60" x2="523.00" y2="465.00" stroke="#e8e8e8" stroke-width="0.7"/>
<line x1="547.00" y1="341.60" x2="547.00" y2="465.00" stroke="#e8e8e8" stroke-width="0.7"/>
<line x1="571.00" y1="341.60" x2="571.00" y2="465.00" stroke="#e8e8e8" stroke-width="0.7"/>
<line x1="595.00" y1="341.60" x2="595.00" y2="465.00" stroke="#e8e8e8" stroke-width="0.7"/>
<rect x="473.90" y="341.60" width="121.90" height="123.40" fill="none" stroke="#d0d0d0" stroke-width="1.4"/>
<circle cx="510.40" cy="349.00" r="3.50" fill="#facbe6"/>
<circle cx="480.60" cy="361.18" r="1.90" fill="#facbe6"/>
<circle cx="511.60" cy="373.36" r="3.30" fill="#facbe6"/>
<circle cx="590.00" cy="385.53" r="3.30" fill="#facbe6"/>
<circle cx="491.40" cy="397.71" r="4.10" fill="#facbe6"/>
<circle cx="479.00" cy="409.89" r="3.50" fill="#facbe6"/>
<circle cx="495.40" cy="422.07" r="3.50" fill="#facbe6"/>
<circle cx="573.40" cy="434.24" r="3.50" fill="#facbe6"/>
<circle cx="542.20" cy="446.42" r="3.10" fill="#facbe6"/>
<circle cx="491.40" cy="458.60" r="4.40" fill="#facbe6"/>
<text x="470.00" y="351.33" font-size="6.3" text-anchor="end" fill="#1a1a1a" color="#1a1a1a">Viral carcinogenesis</text>
<text x="470.00" y="363.51" font-size="6.3" text-anchor="end" fill="#1a1a1a" color="#1a1a1a">Thyroid cancer</text>
<text x="470.00" y="375.69" font-size="6.3" text-anchor="end" fill="#1a1a1a" color="#1a1a1a">Spliceosome</text>
<text x="470.00" y="387.86" font-size="6.3" text-anchor="end" fill="#1a1a1a" color="#1a1a1a">Ribosome</text>
<text x="470.00" y="400.04" font-size="6.3" text-anchor="end" fill="#1a1a1a" color="#1a1a1a">Parkinson disease</text>
<text x="470.00" y="412.22" font-size="6.3" text-anchor="end" fill="#1a1a1a" color="#1a1a1a">Hepatitis B</text>
<text x="470.00" y="424.40" font-size="6.3" text-anchor="end" fill="#1a1a1a" color="#1a1a1a">Cellular senescence</text>
<text x="470.00" y="436.58" font-size="6.3" text-anchor="end" fill="#1a1a1a" color="#1a1a1a">Cell cycle</text>
<text x="470.00" y="448.75" font-size="6.3" text-anchor="end" fill="#1a1a1a" color="#1a1a1a">ATP−dependent chromatin remodeling</text>
<text x="470.00" y="460.93" font-size="6.3" text-anchor="end" fill="#1a1a1a" color="#1a1a1a">Alzheimer disease</text>
<text x="475.00" y="474.23" font-size="6.2" text-anchor="middle" fill="#1a1a1a" color="#1a1a1a">2</text>
<text x="499.00" y="474.23" font-size="6.2" text-anchor="middle" fill="#1a1a1a" color="#1a1a1a">3</text>
<text x="523.00" y="474.23" font-size="6.2" text-anchor="middle" fill="#1a1a1a" color="#1a1a1a">4</text>
<text x="547.00" y="474.23" font-size="6.2" text-anchor="middle" fill="#1a1a1a" color="#1a1a1a">5</text>
<text x="571.00" y="474.23" font-size="6.2" text-anchor="middle" fill="#1a1a1a" color="#1a1a1a">6</text>
<text x="595.00" y="474.23" font-size="6.2" text-anchor="middle" fill="#1a1a1a" color="#1a1a1a">7</text>
<text x="534.85" y="481.86" font-size="6.86" text-anchor="middle" fill="#1a1a1a" color="#1a1a1a">−Log10(FDR P−value)</text>
<text x="606.20" y="388.11" font-size="6.98" text-anchor="start" fill="#1a1a1a" color="#1a1a1a">Gene_Count</text>
<circle cx="611.50" cy="397.70" r="3.00" fill="#facbe6"/>
<text x="620.20" y="399.78" font-size="5.77" text-anchor="start" fill="#1a1a1a" color="#1a1a1a">100</text>
<circle cx="611.50" cy="408.70" r="3.70" fill="#facbe6"/>
<text x="620.20" y="410.78" font-size="5.77" text-anchor="start" fill="#1a1a1a" color="#1a1a1a">200</text>
<circle cx="611.50" cy="419.30" r="4.30" fill="#facbe6"/>
<text x="620.20" y="421.38" font-size="5.77" text-anchor="start" fill="#1a1a1a" color="#1a1a1a">300</text>
<text x="0.30" y="512.00" font-size="15" text-anchor="start" font-weight="bold" fill="#231815" color="#231815" stroke-width="0">e</text>
<text x="77.00" y="522.00" font-size="8.3" text-anchor="middle" font-weight="bold" fill="#231815" color="#231815" stroke-width="0.08">C7: KEGG pathway</text>
<line x1="49.80" y1="524.60" x2="49.80" y2="609.90" stroke="#ececec" stroke-width="0.65"/>
<line x1="68.60" y1="524.60" x2="68.60" y2="609.90" stroke="#ececec" stroke-width="0.65"/>
<line x1="87.40" y1="524.60" x2="87.40" y2="609.90" stroke="#ececec" stroke-width="0.65"/>
<line x1="106.20" y1="524.60" x2="106.20" y2="609.90" stroke="#ececec" stroke-width="0.65"/>
<line x1="37.30" y1="567.40" x2="111.40" y2="567.40" stroke="#e8e8e8" stroke-width="0.7"/>
<line x1="40.40" y1="524.60" x2="40.40" y2="609.90" stroke="#e8e8e8" stroke-width="0.7"/>
<line x1="59.20" y1="524.60" x2="59.20" y2="609.90" stroke="#e8e8e8" stroke-width="0.7"/>
<line x1="78.00" y1="524.60" x2="78.00" y2="609.90" stroke="#e8e8e8" stroke-width="0.7"/>
<line x1="96.80" y1="524.60" x2="96.80" y2="609.90" stroke="#e8e8e8" stroke-width="0.7"/>
<rect x="37.30" y="524.60" width="74.10" height="85.30" fill="none" stroke="#d0d0d0" stroke-width="1.4"/>
<circle cx="74.30" cy="567.40" r="3.60" fill="#9c9dd0"/>
<text x="34.00" y="569.57" font-size="5.87" text-anchor="end" fill="#1a1a1a" color="#1a1a1a">Alcoholism</text>
<text x="40.40" y="617.76" font-size="6.0" text-anchor="middle" fill="#1a1a1a" color="#1a1a1a">1.875</text>
<text x="59.20" y="617.76" font-size="6.0" text-anchor="middle" fill="#1a1a1a" color="#1a1a1a">1.900</text>
<text x="78.00" y="617.76" font-size="6.0" text-anchor="middle" fill="#1a1a1a" color="#1a1a1a">1.925</text>
<text x="96.80" y="617.76" font-size="6.0" text-anchor="middle" fill="#1a1a1a" color="#1a1a1a">1.950</text>
<text x="74.35" y="624.13" font-size="6.45" text-anchor="middle" fill="#1a1a1a" color="#1a1a1a">−Log10(FDR P−value)</text>
<text x="121.75" y="562.72" font-size="6.44" text-anchor="start" fill="#1a1a1a" color="#1a1a1a">Gene_Count</text>
<circle cx="126.60" cy="571.70" r="3.50" fill="#9c9dd0"/>
<text x="135.00" y="573.59" font-size="5.25" text-anchor="start" fill="#1a1a1a" color="#1a1a1a">164</text>
<text x="199.80" y="507.00" font-size="15" text-anchor="start" font-weight="bold" fill="#231815" color="#231815" stroke-width="0">h</text>
<text x="344.30" y="503.00" font-size="8.3" text-anchor="middle" font-weight="bold" fill="#231815" color="#231815" stroke-width="0.08">C11: GO terms</text>
<line x1="289.06" y1="506.00" x2="289.06" y2="631.00" stroke="#ececec" stroke-width="0.65"/>
<line x1="319.74" y1="506.00" x2="319.74" y2="631.00" stroke="#ececec" stroke-width="0.65"/>
<line x1="350.41" y1="506.00" x2="350.41" y2="631.00" stroke="#ececec" stroke-width="0.65"/>
<line x1="381.09" y1="506.00" x2="381.09" y2="631.00" stroke="#ececec" stroke-width="0.65"/>
<line x1="286.60" y1="513.60" x2="402.00" y2="513.60" stroke="#e8e8e8" stroke-width="0.7"/>
<line x1="286.60" y1="525.87" x2="402.00" y2="525.87" stroke="#e8e8e8" stroke-width="0.7"/>
<line x1="286.60" y1="538.13" x2="402.00" y2="538.13" stroke="#e8e8e8" stroke-width="0.7"/>
<line x1="286.60" y1="550.40" x2="402.00" y2="550.40" stroke="#e8e8e8" stroke-width="0.7"/>
<line x1="286.60" y1="562.67" x2="402.00" y2="562.67" stroke="#e8e8e8" stroke-width="0.7"/>
<line x1="286.60" y1="574.93" x2="402.00" y2="574.93" stroke="#e8e8e8" stroke-width="0.7"/>
<line x1="286.60" y1="587.20" x2="402.00" y2="587.20" stroke="#e8e8e8" stroke-width="0.7"/>
<line x1="286.60" y1="599.47" x2="402.00" y2="599.47" stroke="#e8e8e8" stroke-width="0.7"/>
<line x1="286.60" y1="611.73" x2="402.00" y2="611.73" stroke="#e8e8e8" stroke-width="0.7"/>
<line x1="286.60" y1="624.00" x2="402.00" y2="624.00" stroke="#e8e8e8" stroke-width="0.7"/>
<line x1="304.40" y1="506.00" x2="304.40" y2="631.00" stroke="#e8e8e8" stroke-width="0.7"/>
<line x1="335.07" y1="506.00" x2="335.07" y2="631.00" stroke="#e8e8e8" stroke-width="0.7"/>
<line x1="365.75" y1="506.00" x2="365.75" y2="631.00" stroke="#e8e8e8" stroke-width="0.7"/>
<line x1="396.42" y1="506.00" x2="396.42" y2="631.00" stroke="#e8e8e8" stroke-width="0.7"/>
<rect x="286.60" y="506.00" width="115.40" height="125.00" fill="none" stroke="#d0d0d0" stroke-width="1.4"/>
<circle cx="296.80" cy="513.60" r="3.30" fill="#9daac6"/>
<circle cx="357.80" cy="525.87" r="4.00" fill="#9daac6"/>
<circle cx="291.40" cy="538.13" r="4.00" fill="#9daac6"/>
<circle cx="291.80" cy="550.40" r="2.90" fill="#9daac6"/>
<circle cx="291.60" cy="562.67" r="2.90" fill="#9daac6"/>
<circle cx="397.10" cy="574.93" r="4.10" fill="#9daac6"/>
<circle cx="291.60" cy="587.20" r="3.70" fill="#9daac6"/>
<circle cx="295.40" cy="599.47" r="2.70" fill="#9daac6"/>
<circle cx="291.20" cy="611.73" r="2.50" fill="#9daac6"/>
<circle cx="291.60" cy="624.00" r="2.10" fill="#9daac6"/>
<text x="283.00" y="515.93" font-size="6.3" text-anchor="end" fill="#1a1a1a" color="#1a1a1a">plasma membrane region</text>
<text x="283.00" y="528.20" font-size="6.3" text-anchor="end" fill="#1a1a1a" color="#1a1a1a">plasma membrane</text>
<text x="283.00" y="540.46" font-size="6.3" text-anchor="end" fill="#1a1a1a" color="#1a1a1a">extracellular region</text>
<text x="283.00" y="552.73" font-size="6.3" text-anchor="end" fill="#1a1a1a" color="#1a1a1a">extracellular matrix</text>
<text x="283.00" y="565.00" font-size="6.3" text-anchor="end" fill="#1a1a1a" color="#1a1a1a">external encapsulating structure</text>
<text x="283.00" y="577.26" font-size="6.3" text-anchor="end" fill="#1a1a1a" color="#1a1a1a">cell periphery</text>
<text x="283.00" y="589.53" font-size="6.3" text-anchor="end" fill="#1a1a1a" color="#1a1a1a">cell junction</text>
<text x="283.00" y="601.80" font-size="6.3" text-anchor="end" fill="#1a1a1a" color="#1a1a1a">calcium ion transport</text>
<text x="283.00" y="614.06" font-size="6.3" text-anchor="end" fill="#1a1a1a" color="#1a1a1a">calcium ion transmembrane transport</text>
<text x="283.00" y="626.33" font-size="6.3" text-anchor="end" fill="#1a1a1a" color="#1a1a1a">antibacterial humoral response</text>
<text x="304.40" y="639.23" font-size="6.2" text-anchor="middle" fill="#1a1a1a" color="#1a1a1a">2.5</text>
<text x="335.07" y="639.23" font-size="6.2" text-anchor="middle" fill="#1a1a1a" color="#1a1a1a">5.0</text>
<text x="365.75" y="639.23" font-size="6.2" text-anchor="middle" fill="#1a1a1a" color="#1a1a1a">7.5</text>
<text x="396.42" y="639.23" font-size="6.2" text-anchor="middle" fill="#1a1a1a" color="#1a1a1a">10.0</text>
<text x="344.30" y="647.26" font-size="6.84" text-anchor="middle" fill="#1a1a1a" color="#1a1a1a">−Log10(FDR P−value)</text>
<text x="413.00" y="542.48" font-size="6.88" text-anchor="start" fill="#1a1a1a" color="#1a1a1a">Gene_Count</text>
<circle cx="418.00" cy="552.00" r="2.80" fill="#9daac6"/>
<text x="427.00" y="554.04" font-size="5.67" text-anchor="start" fill="#1a1a1a" color="#1a1a1a">1000</text>
<circle cx="418.00" cy="562.60" r="3.20" fill="#9daac6"/>
<text x="427.00" y="564.64" font-size="5.67" text-anchor="start" fill="#1a1a1a" color="#1a1a1a">2000</text>
<circle cx="418.00" cy="573.60" r="3.80" fill="#9daac6"/>
<text x="427.00" y="575.64" font-size="5.67" text-anchor="start" fill="#1a1a1a" color="#1a1a1a">3000</text>
<circle cx="418.00" cy="584.40" r="4.20" fill="#9daac6"/>
<text x="427.00" y="586.44" font-size="5.67" text-anchor="start" fill="#1a1a1a" color="#1a1a1a">4000</text>
<circle cx="418.00" cy="595.40" r="4.40" fill="#9daac6"/>
<text x="427.00" y="597.44" font-size="5.67" text-anchor="start" fill="#1a1a1a" color="#1a1a1a">5000</text>
<text x="491.00" y="508.80" font-size="15" text-anchor="start" font-weight="bold" fill="#231815" color="#231815" stroke-width="0">i</text>
<defs><clipPath id="cb"><ellipse cx="564.25" cy="566.2" rx="55.05" ry="54.3"/></clipPath></defs>
<ellipse cx="564.25" cy="566.2" rx="55.05" ry="54.3" fill="#bbdff1"/>
<ellipse cx="586.55" cy="566.2" rx="54.95" ry="54.3" fill="#fecfdb"/>
<ellipse cx="586.55" cy="566.2" rx="54.95" ry="54.3" fill="#dac2d7" clip-path="url(#cb)"/>
<text x="520.60" y="572.20" font-size="16" text-anchor="middle" style="font-family:&quot;Liberation Serif&quot;,serif" fill="#1a1a1a" color="#1a1a1a" stroke-width="0">2</text>
<text x="575.60" y="572.20" font-size="16" text-anchor="middle" style="font-family:&quot;Liberation Serif&quot;,serif" fill="#1a1a1a" color="#1a1a1a" stroke-width="0">6</text>
<text x="631.50" y="572.20" font-size="16" text-anchor="middle" style="font-family:&quot;Liberation Serif&quot;,serif" fill="#1a1a1a" color="#1a1a1a" stroke-width="0">2</text>
<text x="557.00" y="504.00" font-size="7.55" text-anchor="start" font-weight="bold" fill="#222" color="#222">Brain-related functional enrichment</text>
<text x="621" y="514" font-size="7.55" text-anchor="middle" font-weight="bold" fill="#222">(<tspan font-style="italic">n</tspan> = 8)</text>
<text x="527.00" y="628.60" font-size="7.55" text-anchor="middle" font-weight="bold" fill="#222" color="#222">Tissue-specific Enrichment</text>
<text x="527.00" y="638.20" font-size="7.55" text-anchor="middle" font-weight="bold" fill="#222" color="#222">in Cerebral Cortex</text>
<text x="527" y="648" font-size="7.55" text-anchor="middle" font-weight="bold" fill="#222">(<tspan font-style="italic">n</tspan> = 8)</text>
</svg>
</body></html>
